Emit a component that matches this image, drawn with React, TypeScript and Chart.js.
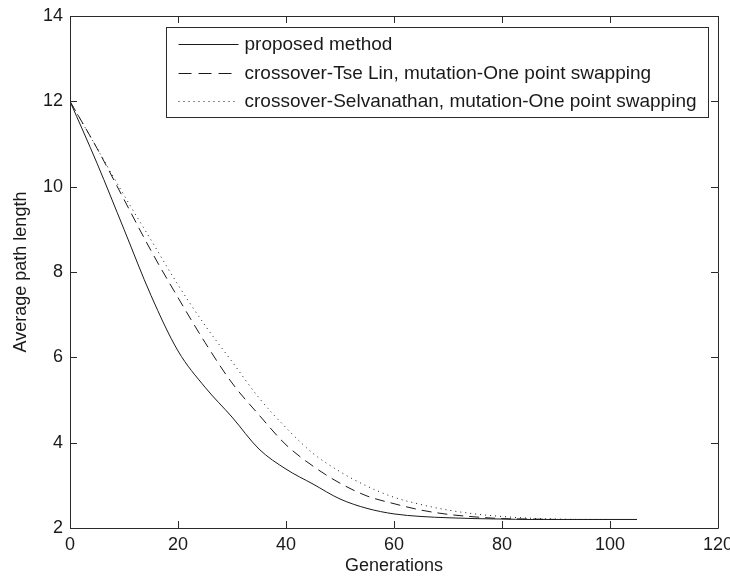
import React, { useEffect, useRef } from "react";
import { Chart, registerables } from "chart.js";

Chart.register(...registerables);

const generations = [0, 5, 10, 15, 20, 25, 30, 35, 40, 45, 50, 55, 60, 65, 70, 75, 80, 85, 90, 95, 100, 105];
const proposed = [12, 10.55, 9.0, 7.45, 6.15, 5.3, 4.6, 3.85, 3.38, 3.03, 2.68, 2.46, 2.33, 2.27, 2.24, 2.22, 2.21, 2.2, 2.2, 2.2, 2.2, 2.2];
const tseLin = [12, 10.9, 9.7, 8.5, 7.4, 6.35, 5.4, 4.65, 3.95, 3.45, 3.05, 2.75, 2.57, 2.42, 2.32, 2.26, 2.22, 2.21, 2.2];
const selvanathan = [12, 10.9, 9.8, 8.75, 7.7, 6.75, 5.9, 5.05, 4.35, 3.75, 3.32, 2.98, 2.72, 2.55, 2.42, 2.33, 2.27, 2.23, 2.21, 2.2, 2.2];

const seriesLabels = [
  "proposed method",
  "crossover-Tse Lin, mutation-One point swapping",
  "crossover-Selvanathan, mutation-One point swapping",
];
const xTicks = [0, 20, 40, 60, 80, 100, 120];
const yTicks = [2, 4, 6, 8, 10, 12, 14];
const xTitle = "Generations";
const yTitle = "Average path length";

const FONT = "'Liberation Sans', Arial, sans-serif";
const INK = "#1a1a1a";

const toPoints = (vals: number[]) => vals.map((v, i) => ({ x: generations[i], y: v }));

const boxPlugin = {
  id: "matlabBox",
  afterDatasetsDraw(chart: any) {
    const { ctx, chartArea: a, scales } = chart;
    const xs = scales.x, ys = scales.y;
    const tl = 7;
    ctx.save();
    ctx.strokeStyle = "#2a2a2a";
    ctx.lineWidth = 1;
    ctx.setLineDash([]);
    ctx.beginPath();
    ctx.rect(Math.round(a.left) + 0.5, Math.round(a.top) + 0.5, Math.round(a.right - a.left), Math.round(a.bottom - a.top));
    for (const t of xTicks) {
      const px = Math.round(xs.getPixelForValue(t)) + 0.5;
      ctx.moveTo(px, a.bottom);
      ctx.lineTo(px, a.bottom - tl);
      ctx.moveTo(px, a.top);
      ctx.lineTo(px, a.top + tl);
    }
    for (const t of yTicks) {
      const py = Math.round(ys.getPixelForValue(t)) + 0.5;
      ctx.moveTo(a.left, py);
      ctx.lineTo(a.left + tl, py);
      ctx.moveTo(a.right, py);
      ctx.lineTo(a.right - tl, py);
    }
    ctx.stroke();

    // legend
    const bx = Math.round(a.right) - 9.5;
    const bw = 542;
    const left = bx - bw;
    const top = Math.round(a.top) + 11.5;
    const bh = 90;
    ctx.fillStyle = "#ffffff";
    ctx.fillRect(left, top, bw, bh);
    ctx.strokeStyle = "#2a2a2a";
    ctx.strokeRect(left, top, bw, bh);
    const rows = [16.5, 45, 73.5];
    chart.data.datasets.forEach((ds: any, i: number) => {
      const y = Math.round(top + rows[i]) + 0.5;
      ctx.strokeStyle = INK;
      ctx.lineWidth = 1;
      ctx.setLineDash(ds.borderDash && ds.borderDash.length ? (i === 1 ? [13, 7] : ds.borderDash) : []);
      ctx.beginPath();
      ctx.moveTo(left + 12, y);
      ctx.lineTo(left + 72, y);
      ctx.stroke();
      ctx.setLineDash([]);
      ctx.fillStyle = INK;
      ctx.font = `19px ${FONT}`;
      ctx.textBaseline = "middle";
      ctx.textAlign = "left";
      ctx.fillText(ds.label, left + 78, y);
    });
    ctx.restore();
  },
};

export default function App() {
  const ref = useRef<HTMLCanvasElement | null>(null);
  useEffect(() => {
    if (!ref.current) return;
    const common = {
      borderColor: INK,
      borderWidth: 1,
      pointRadius: 0,
      fill: false,
      cubicInterpolationMode: "monotone" as const,
    };
    const chart = new Chart(ref.current, {
      type: "line",
      data: {
        datasets: [
          { ...common, label: seriesLabels[0], data: toPoints(proposed), borderDash: [] },
          { ...common, label: seriesLabels[1], data: toPoints(tseLin), borderDash: [10, 6] },
          { ...common, label: seriesLabels[2], data: toPoints(selvanathan), borderDash: [1, 4] },
        ],
      },
      options: {
        responsive: false,
        animation: false,
        layout: { padding: { top: 16, right: 12, left: 0, bottom: 0 } },
        plugins: { legend: { display: false }, tooltip: { enabled: false } },
        scales: {
          x: {
            type: "linear",
            min: 0,
            max: 120,
            afterFit: (s: any) => { s.height = 53; s.paddingLeft = 0; s.paddingRight = 0; },
            afterBuildTicks: (s: any) => { s.ticks = xTicks.map((v) => ({ value: v })); },
            grid: { display: false, drawTicks: false },
            border: { display: false },
            ticks: { padding: 6, color: INK, font: { family: FONT, size: 18 }, maxRotation: 0 },
            title: { display: true, text: xTitle, color: INK, font: { family: FONT, size: 18 }, padding: { bottom: 4 } },
          },
          y: {
            type: "linear",
            min: 2,
            max: 14,
            afterFit: (s: any) => { s.width = 70; s.paddingTop = 0; s.paddingBottom = 0; },
            afterBuildTicks: (s: any) => { s.ticks = yTicks.map((v) => ({ value: v })); },
            grid: { display: false, drawTicks: false },
            border: { display: false },
            ticks: { padding: 7, color: INK, font: { family: FONT, size: 18 } },
            title: { display: true, text: yTitle, color: INK, font: { family: FONT, size: 18 }, padding: { top: 10 } },
          },
        },
      },
      plugins: [boxPlugin],
    });
    return () => chart.destroy();
  }, []);
  return (
    <div style={{ position: "absolute", left: 0, top: 0, width: 730, height: 581, background: "#fff" }}>
      <canvas ref={ref} width={730} height={581} style={{ display: "block" }} />
    </div>
  );
}
